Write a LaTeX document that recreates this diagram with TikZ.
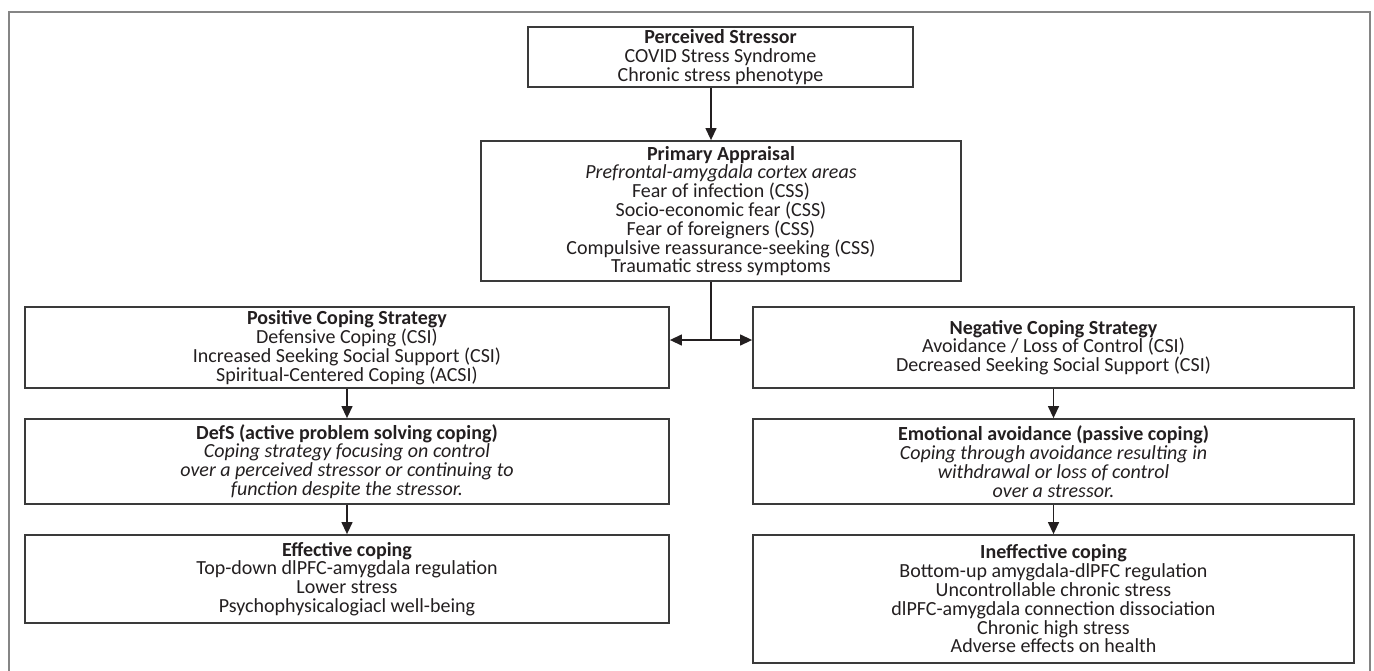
\documentclass[tikz,border=0pt]{standalone}
\usepackage{fontspec}
\setmainfont{Carlito}
\usetikzlibrary{arrows.meta}
\definecolor{boxline}{HTML}{3A3A3A}
\definecolor{frameline}{HTML}{858585}
\definecolor{txt}{HTML}{231F20}
\tikzset{
  box/.style={draw=boxline, line width=1.8pt, inner sep=0pt, align=center,
    text=txt, font=\fontsize{20}{18.8}\selectfont},
  arr/.style={draw=txt, line width=1.3pt, -{Triangle[length=12pt,width=11pt]}},
  link/.style={draw=txt, line width=1.3pt},
  frame/.style={draw=frameline, line width=2pt}
}
\begin{document}
\begin{tikzpicture}[x=1pt,y=-1pt]
\useasboundingbox (0,0) rectangle (1374,670);
\clip (0,0) rectangle (1374,670);
\draw[frame] (9,680) -- (9,12) -- (1370,12) -- (1370,680);

\node[box, minimum width=385pt, minimum height=60pt] (perc) at (720.5,57)
  {\textbf{Perceived Stressor}\\COVID Stress Syndrome\\Chronic stress phenotype};
\node[box, minimum width=480pt, minimum height=140pt] (prim) at (721,211)
  {\textbf{Primary Appraisal}\\\textit{Prefrontal-amygdala cortex areas}\\Fear of infection (CSS)\\Socio-economic fear (CSS)\\Fear of foreigners (CSS)\\Compulsive reassurance-seeking (CSS)\\Traumatic stress symptoms};
\node[box, minimum width=644pt, minimum height=81pt] (pos) at (347,347.5)
  {\textbf{Positive Coping Strategy}\\Defensive Coping (CSI)\\Increased Seeking Social Support (CSI)\\Spiritual-Centered Coping (ACSI)};
\node[box, minimum width=601pt, minimum height=81pt] (neg) at (1053.5,347.5)
  {\textbf{Negative Coping Strategy}\\Avoidance / Loss of Control (CSI)\\Decreased Seeking Social Support (CSI)};
\node[box, minimum width=644pt, minimum height=85pt] (defs) at (347,461.5)
  {\textbf{DefS (active problem solving coping)}\\\textit{Coping strategy focusing on control}\\\textit{over a perceived stressor or continuing to}\\\textit{function despite the stressor.}};
\node[box, minimum width=601pt, minimum height=85pt] (emo) at (1053.5,461.5)
  {\textbf{Emotional avoidance (passive coping)}\\\textit{Coping through avoidance resulting in}\\\textit{withdrawal or loss of control}\\\textit{over a stressor.}};
\node[box, minimum width=644pt, minimum height=88pt] (eff) at (347,579)
  {\textbf{Effective coping}\\Top-down dlPFC-amygdala regulation\\Lower stress\\Psychophysicalogiacl well-being};
\node[box, minimum width=601pt, minimum height=128pt] (ineff) at (1053.5,599)
  {\textbf{Ineffective coping}\\Bottom-up amygdala-dlPFC regulation\\Uncontrollable chronic stress\\dlPFC-amygdala connection dissociation\\Chronic high stress\\Adverse effects on health};

\coordinate (ax) at (711,0);
\coordinate (j) at (711,340);
\draw[arr] (perc.south -| ax) -- (prim.north -| ax);
\draw[link] (prim.south -| ax) -- (j);
\draw[arr] (j) -- (j -| pos.east);
\draw[arr] (j) -- (j -| neg.west);
\draw[arr] (pos.south) -- (defs.north);
\draw[arr] (defs.south) -- (eff.north);
\draw[arr] (neg.south) -- (emo.north);
\draw[arr] (emo.south) -- (ineff.north);
\end{tikzpicture}
\end{document}
